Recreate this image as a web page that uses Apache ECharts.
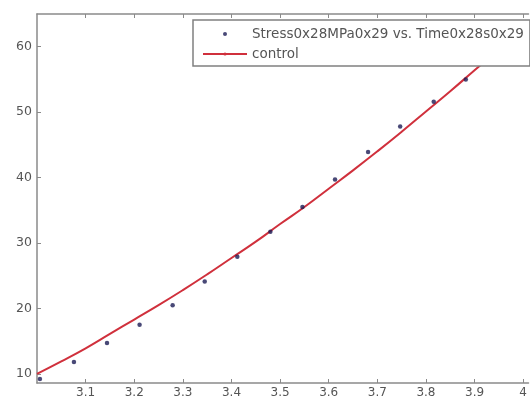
<!DOCTYPE html>
<html>
<head>
<meta charset="utf-8">
<script src="https://cdn.jsdelivr.net/npm/echarts@6/dist/echarts.min.js"></script>
<style>html,body{margin:0;padding:0;background:#fff}#c{width:530px;height:403px}</style>
</head>
<body>
<div id="c"></div>
<script>
var stressName = 'Stress0x28MPa0x29 vs. Time0x28s0x29';
var fitName = 'control';
var timeValues = [3.006, 3.076, 3.144, 3.211, 3.279, 3.345, 3.412, 3.480, 3.546, 3.613, 3.681, 3.747, 3.816, 3.882];
var stressValues = [9.2, 11.8, 14.7, 17.5, 20.5, 24.1, 27.9, 31.7, 35.5, 39.7, 43.9, 47.8, 51.6, 55.0];
var fitTime = [3.00, 3.05, 3.10, 3.15, 3.20, 3.25, 3.30, 3.35, 3.40, 3.45, 3.50, 3.55, 3.60, 3.65, 3.70, 3.75, 3.80, 3.85, 3.90, 3.95, 4.00];
var fitStress = [10.0, 11.9, 13.9, 16.1, 18.3, 20.5, 22.8, 25.2, 27.7, 30.2, 32.9, 35.5, 38.3, 41.1, 44.0, 47.0, 50.1, 53.2, 56.4, 59.6, 63.0];
var xTicks = [3.1, 3.2, 3.3, 3.4, 3.5, 3.6, 3.7, 3.8, 3.9, 4];
var yTicks = [10, 20, 30, 40, 50, 60];

var axisColor = '#8a8a8a';
var labelColor = '#555';
var font = 'DejaVu Sans, Verdana, sans-serif';

function pairs(xs, ys) { return xs.map(function (x, i) { return [x, ys[i]]; }); }

var chart = echarts.init(document.getElementById('c'));
chart.setOption({
  animation: false,
  backgroundColor: '#fff',
  grid: { left: 37, top: 14, right: 0, bottom: 20, containLabel: false },
  xAxis: [{
    type: 'value', min: 3, max: 4.011, position: 'bottom',
    axisLine: { show: true, lineStyle: { color: axisColor, width: 1.5 } },
    axisTick: { show: true, inside: true, length: 4, customValues: xTicks, lineStyle: { color: axisColor } },
    axisLabel: { customValues: xTicks, color: labelColor, fontSize: 12, fontFamily: font, margin: 4,
      formatter: function (v) { return String(Math.round(v * 10) / 10); } },
    splitLine: { show: false }
  }, {
    type: 'value', min: 3, max: 4.011, position: 'top',
    axisLine: { show: true, onZero: false, lineStyle: { color: axisColor, width: 1.5 } },
    axisTick: { show: true, inside: true, length: 4, customValues: xTicks, lineStyle: { color: axisColor } },
    axisLabel: { show: false }, splitLine: { show: false }
  }],
  yAxis: [{
    type: 'value', min: 8.6, max: 65, position: 'left',
    axisLine: { show: true, lineStyle: { color: axisColor, width: 1.5 } },
    axisTick: { show: true, inside: true, length: 4, customValues: yTicks, lineStyle: { color: axisColor } },
    axisLabel: { customValues: yTicks, color: labelColor, fontSize: 12.5, fontFamily: font, margin: 5 },
    splitLine: { show: false }
  }],
  legend: {
    orient: 'vertical', left: 193, top: 20,
    padding: [7, 6, 5, 9],
    itemWidth: 44, itemHeight: 4, itemGap: 6,
    backgroundColor: '#fff', borderColor: '#808080', borderWidth: 1.5, borderRadius: 0,
    textStyle: { color: '#555', fontSize: 13.5, lineHeight: 14, fontFamily: font },
    data: [{ name: stressName, icon: 'circle' }, { name: fitName }]
  },
  series: [{
    name: fitName, type: 'line', data: pairs(fitTime, fitStress),
    symbol: 'none', smooth: true,
    lineStyle: { color: '#d0303c', width: 2 }, itemStyle: { color: '#d0303c' }, z: 2
  }, {
    name: stressName, type: 'scatter', data: pairs(timeValues, stressValues),
    symbolSize: 4.5, itemStyle: { color: '#1c1c55' }, z: 3
  }]
});
</script>
</body>
</html>
